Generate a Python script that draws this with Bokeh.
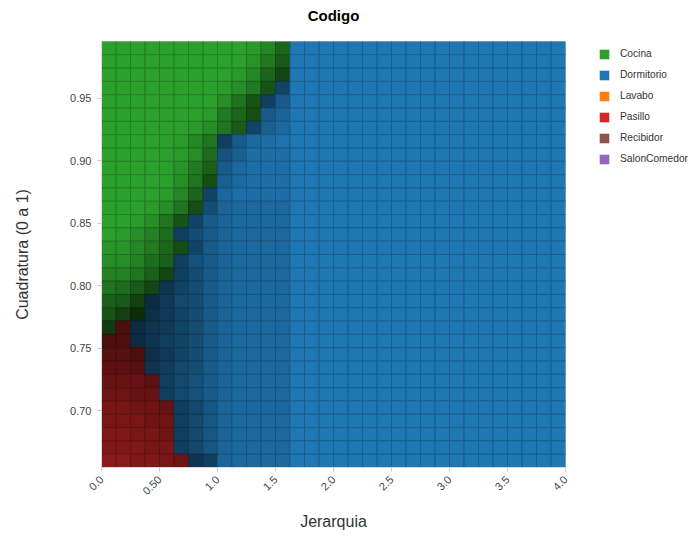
from bokeh.plotting import figure
from bokeh.layouts import row
from bokeh.models import (ColumnDataSource, Range1d, FixedTicker, Legend, LegendItem,
                          LinearAxis)
from bokeh.embed import file_html
from bokeh.resources import INLINE

# ---- data -------------------------------------------------------------
TITLE = "Codigo"
CATEGORY_NAMES = {"C": "Cocina", "D": "Dormitorio", "L": "Lavabo",
                  "P": "Pasillo", "R": "Recibidor", "S": "SalonComedor"}
LEGEND_ORDER = ["Cocina", "Dormitorio", "Lavabo", "Pasillo", "Recibidor", "SalonComedor"]

# grid centres (Jerarquia, Cuadratura)
X_CENTERS = [0.0625, 0.1875, 0.3125, 0.4375, 0.5625, 0.6875, 0.8125, 0.9375,
             1.0625, 1.1875, 1.3125, 1.4375, 1.5625, 1.6875, 1.8125, 1.9375,
             2.0625, 2.1875, 2.3125, 2.4375, 2.5625, 2.6875, 2.8125, 2.9375,
             3.0625, 3.1875, 3.3125, 3.4375, 3.5625, 3.6875, 3.8125, 3.9375]
Y_CENTERS_TOP_DOWN = [0.9900, 0.9794, 0.9687, 0.9581, 0.9474, 0.9368, 0.9261, 0.9155,
                      0.9048, 0.8942, 0.8835, 0.8729, 0.8623, 0.8516, 0.8410, 0.8303,
                      0.8197, 0.8090, 0.7984, 0.7877, 0.7771, 0.7665, 0.7558, 0.7452,
                      0.7345, 0.7239, 0.7132, 0.7026, 0.6919, 0.6813, 0.6706, 0.6600]

# predicted class per cell (rows from top)
CLASS_ROWS = [
    "CCCCCCCCCCCCCDDDDDDDDDDDDDDDDDDD",
    "CCCCCCCCCCCCCDDDDDDDDDDDDDDDDDDD",
    "CCCCCCCCCCCCCDDDDDDDDDDDDDDDDDDD",
    "CCCCCCCCCCCCDDDDDDDDDDDDDDDDDDDD",
    "CCCCCCCCCCCDDDDDDDDDDDDDDDDDDDDD",
    "CCCCCCCCCCCDDDDDDDDDDDDDDDDDDDDD",
    "CCCCCCCCCCDDDDDDDDDDDDDDDDDDDDDD",
    "CCCCCCCCDDDDDDDDDDDDDDDDDDDDDDDD",
    "CCCCCCCCDDDDDDDDDDDDDDDDDDDDDDDD",
    "CCCCCCCCDDDDDDDDDDDDDDDDDDDDDDDD",
    "CCCCCCCCDDDDDDDDDDDDDDDDDDDDDDDD",
    "CCCCCCCDDDDDDDDDDDDDDDDDDDDDDDDD",
    "CCCCCCCDDDDDDDDDDDDDDDDDDDDDDDDD",
    "CCCCCCDDDDDDDDDDDDDDDDDDDDDDDDDD",
    "CCCCCDDDDDDDDDDDDDDDDDDDDDDDDDDD",
    "CCCCCCDDDDDDDDDDDDDDDDDDDDDDDDDD",
    "CCCCCDDDDDDDDDDDDDDDDDDDDDDDDDDD",
    "CCCCCDDDDDDDDDDDDDDDDDDDDDDDDDDD",
    "CCCCDDDDDDDDDDDDDDDDDDDDDDDDDDDD",
    "CCCDDDDDDDDDDDDDDDDDDDDDDDDDDDDD",
    "CCCDDDDDDDDDDDDDDDDDDDDDDDDDDDDD",
    "CPDDDDDDDDDDDDDDDDDDDDDDDDDDDDDD",
    "PPDDDDDDDDDDDDDDDDDDDDDDDDDDDDDD",
    "PPPDDDDDDDDDDDDDDDDDDDDDDDDDDDDD",
    "PPPDDDDDDDDDDDDDDDDDDDDDDDDDDDDD",
    "PPPPDDDDDDDDDDDDDDDDDDDDDDDDDDDD",
    "PPPPDDDDDDDDDDDDDDDDDDDDDDDDDDDD",
    "PPPPPDDDDDDDDDDDDDDDDDDDDDDDDDDD",
    "PPPPPDDDDDDDDDDDDDDDDDDDDDDDDDDD",
    "PPPPPDDDDDDDDDDDDDDDDDDDDDDDDDDD",
    "PPPPPDDDDDDDDDDDDDDDDDDDDDDDDDDD",
    "PPPPPPDDDDDDDDDDDDDDDDDDDDDDDDDD",
]

# confidence per cell, letter a..z = 0..1 (rows from top)
CONF_ROWS = [
    "zzzzzzzzzzyvqzzzzzzzzzzzzzzzzzzz",
    "zzzzzzzzzzxtozzzzzzzzzzzzzzzzzzz",
    "zzzzzzzzzyvqlzzzzzzzzzzzzzzzzzzz",
    "zzzzzzzzywtnozzzzzzzzzzzzzzzzzzz",
    "zzzzzzzzwsnntzzzzzzzzzzzzzzzzzzz",
    "zzzzzzzytqmtvzzzzzzzzzzzzzzzzzzz",
    "zzzzzzywsoouwzzzzzzzzzzzzzzzzzzz",
    "zzzzzyvsntwxyzzzzzzzzzzzzzzzzzzz",
    "zzzzzywrruxxxzzzzzzzzzzzzzzzzzzz",
    "zzzzzxtptwxxxzzzzzzzzzzzzzzzzzzz",
    "zzzzzwsmuwxxxzzzzzzzzzzzzzzzzzzz",
    "zzzzyvqowxxxxzzzzzzzzzzzzzzzzzzz",
    "zzzywsmqvwwwwzzzzzzzzzzzzzzzzzzz",
    "zzywsnotvwwwwzzzzzzzzzzzzzzzzzzz",
    "zywurnqtvwwwwzzzzzzzzzzzzzzzzzzz",
    "xxvtqmotvwwwwzzzzzzzzzzzzzzzzzzz",
    "wwurpnrtvwwwwzzzzzzzzzzzzzzzzzzz",
    "uusplnqtvwwwwzzzzzzzzzzzzzzzzzzz",
    "srolloqtvwwwwzzzzzzzzzzzzzzzzzzz",
    "pokjmpqtvwwwwzzzzzzzzzzzzzzzzzzz",
    "nkhkmoqtvwwwwzzzzzzzzzzzzzzzzzzz",
    "jjjlmoqtvwwwwzzzzzzzzzzzzzzzzzzz",
    "jjjlnoqtvwwwwzzzzzzzzzzzzzzzzzzz",
    "kkjkmoqtvwwwwzzzzzzzzzzzzzzzzzzz",
    "llklnpqtvwwwwzzzzzzzzzzzzzzzzzzz",
    "mmmlnprtvwwwwzzzzzzzzzzzzzzzzzzz",
    "nnmmnprtvwwwwzzzzzzzzzzzzzzzzzzz",
    "oonnmnpsvwwwwzzzzzzzzzzzzzzzzzzz",
    "ooonnnpsvwwwwzzzzzzzzzzzzzzzzzzz",
    "ppoonnpsvwwwwzzzzzzzzzzzzzzzzzzz",
    "pppoonpsvwwwwzzzzzzzzzzzzzzzzzzz",
    "qqpponlnvwwwwzzzzzzzzzzzzzzzzzzz",
]

X_TICKS = [0.0, 0.5, 1.0, 1.5, 2.0, 2.5, 3.0, 3.5, 4.0]
X_TICK_LABELS = ["0.0", "0.50", "1.0", "1.5", "2.0", "2.5", "3.0", "3.5", "4.0"]
Y_TICKS = [0.70, 0.75, 0.80, 0.85, 0.90, 0.95]
Y_TICK_LABELS = ["0.70", "0.75", "0.80", "0.85", "0.90", "0.95"]

# ---- styling ----------------------------------------------------------
PALETTE = {"Cocina": (44, 160, 44), "Dormitorio": (31, 119, 180), "Lavabo": (255, 127, 14),
           "Pasillo": (214, 39, 40), "Recibidor": (140, 86, 75), "SalonComedor": (148, 103, 189)}
FONT = "Liberation Sans"
CELL_W = 0.125
CELL_H = 0.010645


def shade(rgb, f):
    r, g, b = (min(255, int(round(c * f))) for c in rgb)
    return "#%02x%02x%02x" % (r, g, b)


xs, ys, fills, edges = [], [], [], []
for r, (crow, frow) in enumerate(zip(CLASS_ROWS, CONF_ROWS)):
    assert len(crow) == 32 and len(frow) == 32, r
    for c in range(32):
        name = CATEGORY_NAMES[crow[c]]
        f = (ord(frow[c]) - 97) / 25.0
        xs.append(X_CENTERS[c])
        ys.append(Y_CENTERS_TOP_DOWN[r])
        fills.append(shade(PALETTE[name], f))
        edges.append(shade(PALETTE[name], f * 0.8))

src = ColumnDataSource(dict(x=xs, y=ys, fill=fills, edge=edges))

p = figure(width=590, height=537, output_backend="svg", toolbar_location=None,
           x_range=Range1d(0.0, 4.0), y_range=Range1d(0.6547, 0.9953),
           min_border_left=101, min_border_right=25, min_border_top=41, min_border_bottom=70)
p.title.visible = False
p.outline_line_color = None
p.xgrid.visible = False
p.ygrid.visible = False
p.background_fill_color = "white"

p.rect(x="x", y="y", width=CELL_W, height=CELL_H, source=src,
       fill_color="fill", line_color="edge", line_width=1)

xaxis = p.below[0]
yaxis = p.left[0]

# chart title, drawn as the label of a bare axis above the frame
title_axis = LinearAxis(ticker=FixedTicker(ticks=[]), major_tick_out=0, major_tick_in=0,
                        axis_line_color=None, major_tick_line_color=None,
                        minor_tick_line_color=None, major_label_standoff=0,
                        axis_label=TITLE, axis_label_standoff=18,
                        axis_label_text_font=FONT, axis_label_text_font_size="15px",
                        axis_label_text_font_style="bold", axis_label_text_color="#000000")
p.add_layout(title_axis, "above")

# axes
xaxis.ticker = FixedTicker(ticks=X_TICKS)
xaxis.major_label_overrides = {t: l for t, l in zip(X_TICKS, X_TICK_LABELS)}
xaxis.major_label_orientation = 0.785398
yaxis.ticker = FixedTicker(ticks=Y_TICKS)
yaxis.major_label_overrides = {t: l for t, l in zip(Y_TICKS, Y_TICK_LABELS)}
xaxis.axis_label = "Jerarquia"
yaxis.axis_label = "Cuadratura (0 a 1)"
for ax in (xaxis, yaxis):
    ax.axis_line_color = "#d9d9d9"
    ax.major_tick_line_color = "#c8c8c8"
    ax.minor_tick_line_color = None
    ax.major_tick_in = 0
    ax.major_tick_out = 4
    ax.major_label_text_font = FONT
    ax.major_label_text_font_size = "11px"
    ax.major_label_text_color = "#444444"
    ax.axis_label_text_font = FONT
    ax.axis_label_text_font_size = "16px"
    ax.axis_label_text_font_style = "normal"
    ax.axis_label_text_color = "#333333"
xaxis.major_label_standoff = 6
xaxis.axis_label_standoff = 12
yaxis.major_label_standoff = 6
yaxis.axis_label_standoff = 36

# legend panel (separate narrow figure to the right)
pl = figure(width=101, height=537, output_backend="svg", toolbar_location=None,
            x_range=Range1d(0, 1), y_range=Range1d(0, 1), x_axis_type=None, y_axis_type=None,
            min_border_left=0, min_border_right=0, min_border_top=0, min_border_bottom=0)
pl.title.visible = False
pl.outline_line_color = None
pl.xgrid.visible = False
pl.ygrid.visible = False
nan = float("nan")
items = []
for name in LEGEND_ORDER:
    rr = pl.quad(left=[nan], right=[nan], top=[nan], bottom=[nan],
                 fill_color=shade(PALETTE[name], 1.0), line_color=None)
    items.append(LegendItem(label=name, renderers=[rr]))
legend = Legend(items=items, location=(8, 298), padding=0, margin=0, spacing=0,
                glyph_width=12, glyph_height=12, label_height=21, label_standoff=10,
                label_text_font=FONT, label_text_font_size="10.2px",
                label_text_color="#333333", border_line_color=None,
                background_fill_alpha=0)
pl.add_layout(legend)

layout = row(p, pl, spacing=0)
open("out.html", "w").write(file_html(layout, INLINE))
